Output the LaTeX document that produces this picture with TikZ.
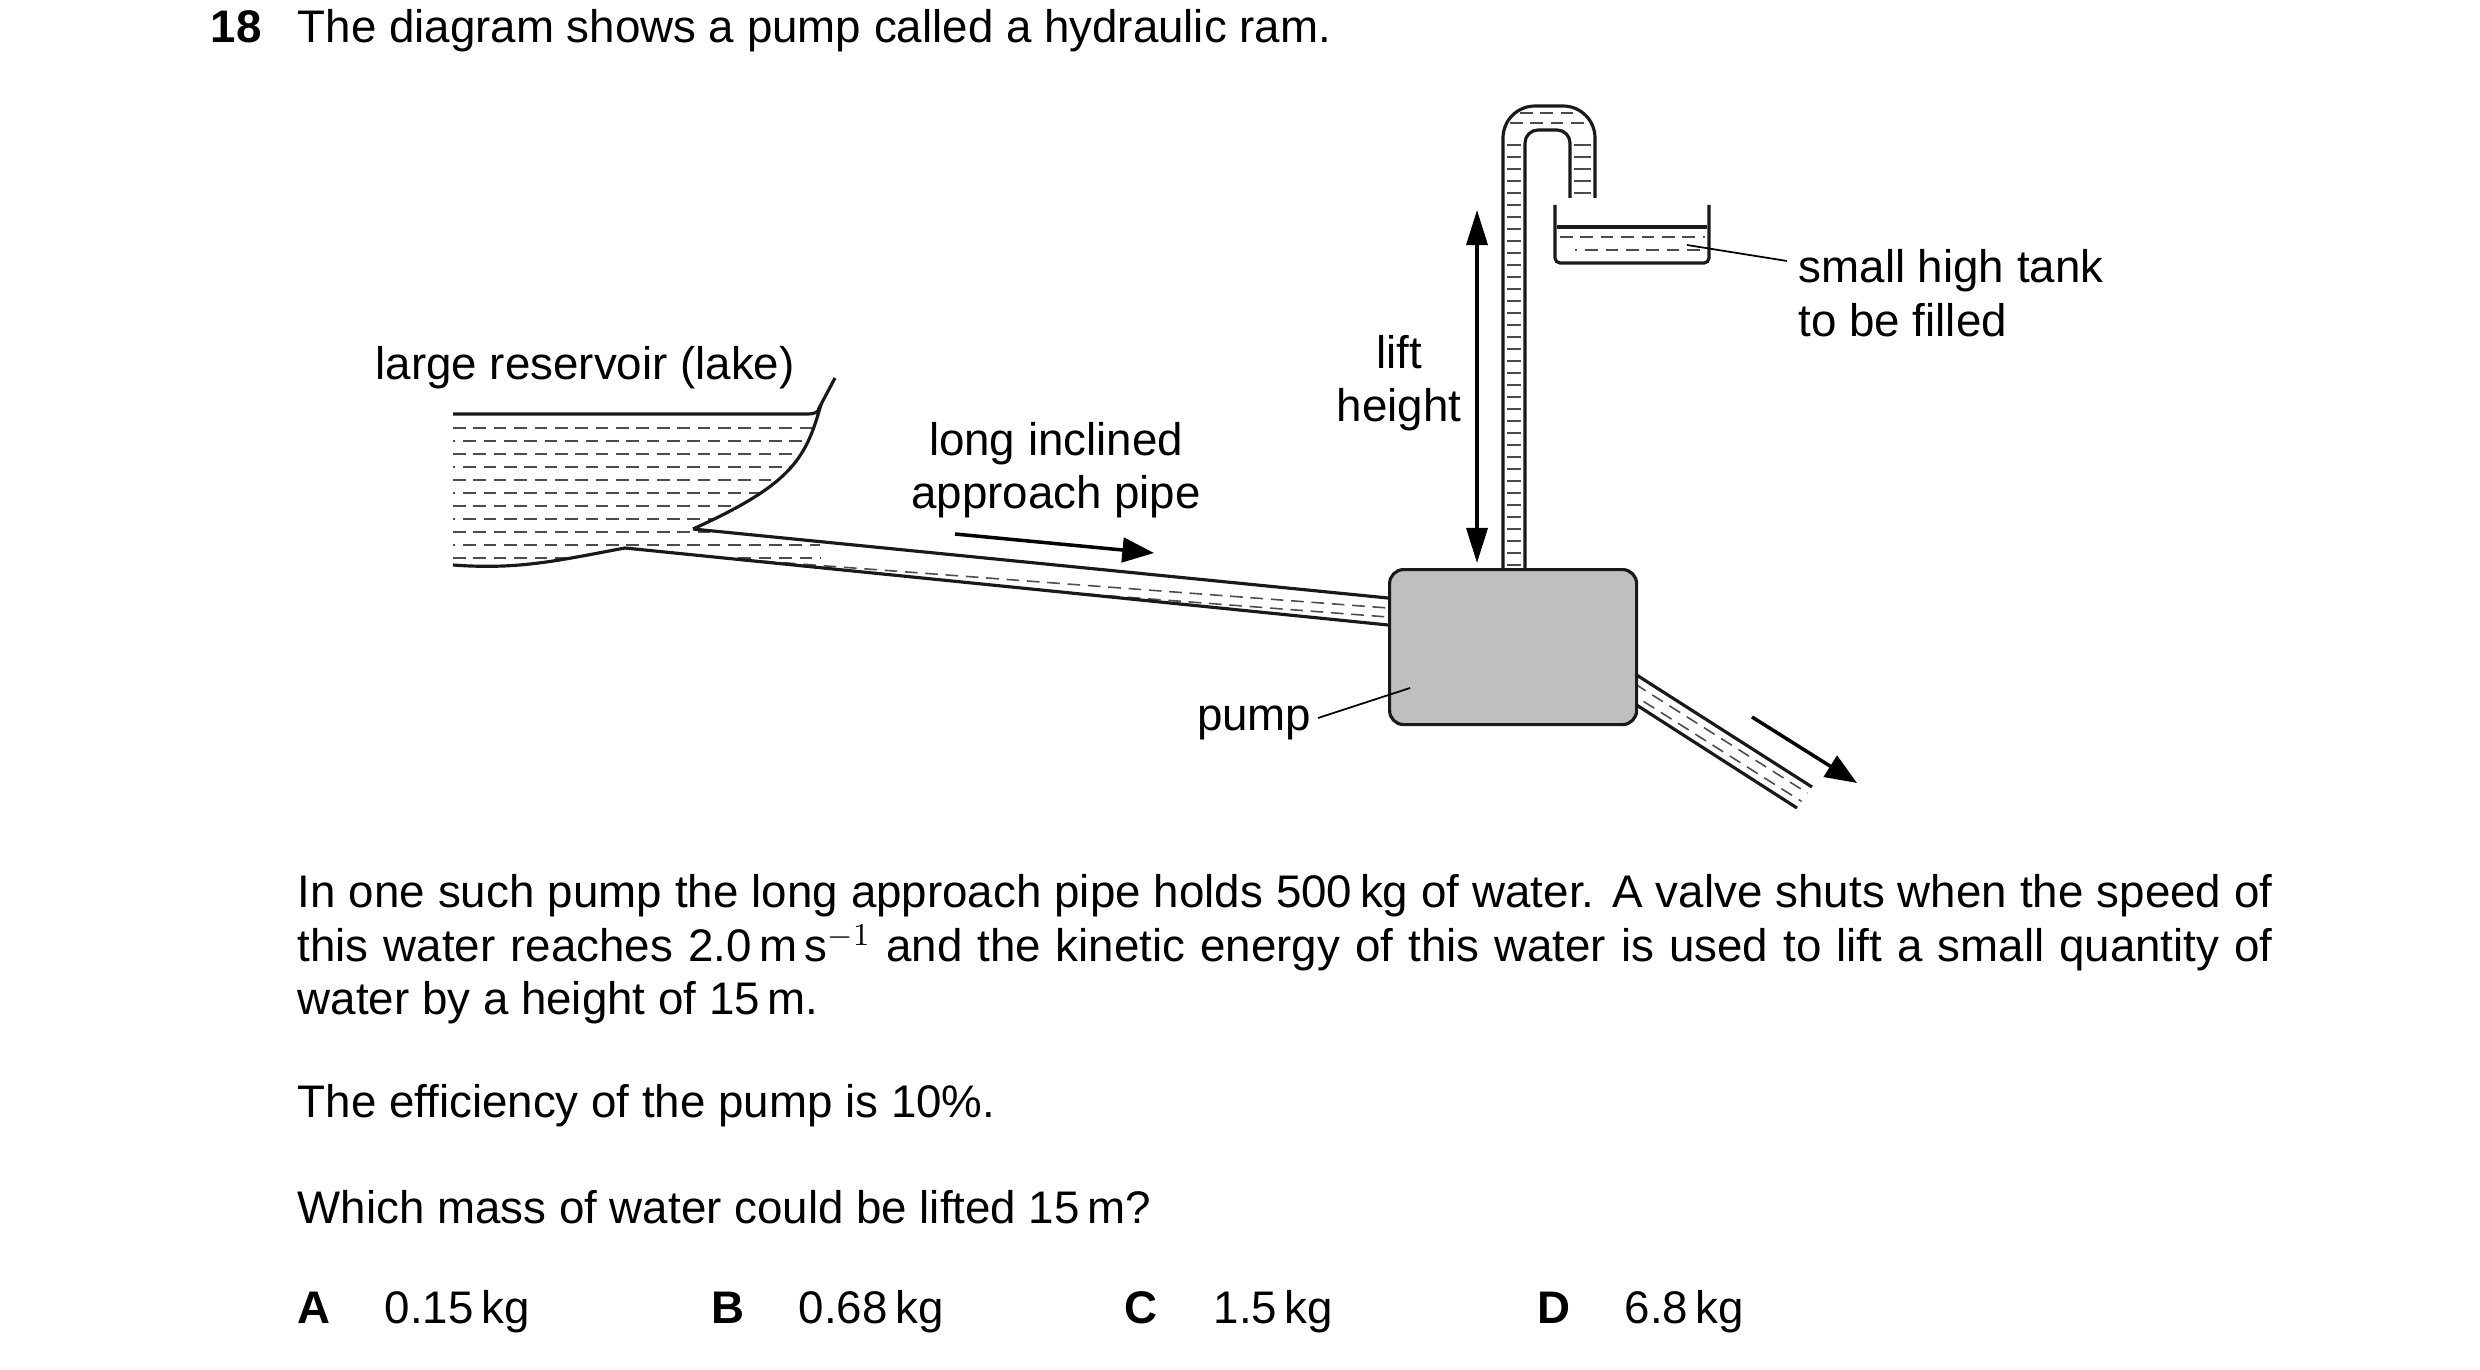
\documentclass[tikz,border=0pt]{standalone}
\usepackage{fontspec}
\setmainfont{Liberation Sans}
\usetikzlibrary{arrows.meta}
\definecolor{pumpgray}{RGB}{190,191,193}
\begin{document}
\begin{tikzpicture}[x=0.1mm,y=-0.1mm,
  outl/.style={line width=0.9pt,black!90},
  wat/.style={line width=0.45pt,black!70,dash pattern=on 3.6pt off 2.2pt},
  watb/.style={wat,dash phase=2.9pt},
  wdash/.style={line width=0.45pt,black!70},
  lab/.style={font=\fontsize{13}{15.2}\selectfont,inner sep=0pt},
  labb/.style={font=\fontsize{13}{15.2}\selectfont\bfseries,inner sep=0pt},
  lead/.style={line width=0.5pt},
  arr/.style={line width=1pt,-{Triangle[length=9pt,width=7pt]}}]
\useasboundingbox (0,0) rectangle (2480,1370);
% title
\node[labb,anchor=mid west] (num) at (210,33) {18};
\node[lab,anchor=mid west] (title) at (297,33) {The diagram shows a pump called a hydraulic ram.};
% reservoir water dashes
\begin{scope}
\clip (453,414) -- (815,414) -- (818,410) .. controls (805,460) and (790,485) .. (693,529) -- (1388,598) -- (1388,625) -- (625,548) .. controls (560,560) and (520,570) .. (453,565) -- cycle;
\foreach \y [count=\i] in {428,441,...,560} {
  \ifodd\i \draw[wat] (453,\y) -- (820,\y); \else \draw[watb] (453,\y) -- (820,\y); \fi }
\end{scope}
\begin{scope}
\clip (693,529) -- (1388,598) -- (1388,625) -- (625,548) -- cycle;
\draw[wat] (600,549) -- (1388,608);
\draw[watb] (650,561) -- (1388,617);
\end{scope}
% reservoir outline
\draw[outl] (453,414) -- (808,414) .. controls (815,414) and (818,412) .. (820,408) .. controls (805,460) and (790,485) .. (693,529);
\draw[outl] (818,410) -- (835,378);
\draw[outl] (453,565) .. controls (520,570) and (560,560) .. (625,548);
% approach pipe
\draw[outl] (693,529) -- (1388,598);
\draw[outl] (625,548) -- (1388,625);
% outlet pipe
\begin{scope}
\clip (1635,674) -- (1812,787) -- (1797,808) -- (1635,704) -- cycle;
\draw[wat] (1635,684) -- (1812,796);
\draw[watb] (1635,696) -- (1812,808);
\end{scope}
\draw[outl] (1635,674) -- (1812,787);
\draw[outl] (1635,704) -- (1797,808);
\draw[arr] (1752,717) -- (1857,783);
% upright pipe
\draw[outl,rounded corners=3.2mm] (1503,568) -- (1503,106) -- (1595,106) -- (1595,198);
\draw[outl,rounded corners=1.3mm] (1525,568) -- (1525,130) -- (1570,130) -- (1570,198);
\foreach \y in {145,157,...,565} \draw[wdash] (1507,\y) -- (1521,\y);
\foreach \y in {145,157,...,195} \draw[wdash] (1574,\y) -- (1591,\y);
\draw[wat] (1520,113) -- (1580,113);
\draw[wat] (1510,123) -- (1590,123);
% tank
\draw[outl,rounded corners=0.5mm] (1555,205) -- (1555,263) -- (1709,263) -- (1709,205);
\draw[outl] (1557,227) -- (1707,227);
\draw[wat] (1560,237) -- (1705,237);
\draw[watb] (1575,250) -- (1705,250);
% pump
\node[draw,outl,fill=pumpgray,rounded corners=4pt,minimum width=247*0.1mm,minimum height=155*0.1mm,anchor=north west,inner sep=0pt] (pump) at (1388,568) {};
% lift height arrow
\coordinate (lt) at (1477,210);
\coordinate (lb) at (1477,563);
\draw[line width=1pt,{Triangle[length=10pt,width=6pt]}-{Triangle[length=10pt,width=6pt]}] (lt) -- (lb);
% labels
\node[lab,align=center] (lift) at (1399,383) {lift\\height};
\node[lab,anchor=mid west,align=left] (tank) at (1798,327) {small high tank\\to be filled};
\coordinate (tk) at (1687,245);
\draw[lead] (tk) -- (1787,261);
\node[lab,anchor=mid west] (res) at (375,370) {large reservoir (lake)};
\node[lab,align=center] (pipe) at (1056,470) {long inclined\\approach pipe};
\coordinate (pa) at (955,534);
\coordinate (pb) at (1154,553);
\draw[arr] (pa) -- (pb);
\node[lab,anchor=mid east] (pl) at (1312,721) {pump};
\coordinate (pp) at (1410,688);
\draw[lead] (1318,718) -- (pp);
% text
\node[lab,anchor=north west,text width=1975*0.1mm,align=justify] (body) at (297,874) {In one such pump the long approach pipe holds 500\,kg of water. A valve shuts when the speed of this water reaches 2.0\,m\,s$^{-1}$ and the kinetic energy of this water is used to lift a small quantity of water by a height of 15\,m.};
\node[lab,anchor=mid west] (eff) at (297,1108) {The efficiency of the pump is 10\%.};
\node[lab,anchor=mid west] (q) at (297,1214) {Which mass of water could be lifted 15\,m?};
\node[labb,anchor=mid west] (A) at (297,1314) {A};
\node[lab,anchor=mid west] (a) at (384,1314) {0.15\,kg};
\node[labb,anchor=mid west] (B) at (711,1314) {B};
\node[lab,anchor=mid west] (b) at (798,1314) {0.68\,kg};
\node[labb,anchor=mid west] (C) at (1124,1314) {C};
\node[lab,anchor=mid west] (c) at (1213,1314) {1.5\,kg};
\node[labb,anchor=mid west] (D) at (1537,1314) {D};
\node[lab,anchor=mid west] (d) at (1624,1314) {6.8\,kg};
\end{tikzpicture}
\end{document}
